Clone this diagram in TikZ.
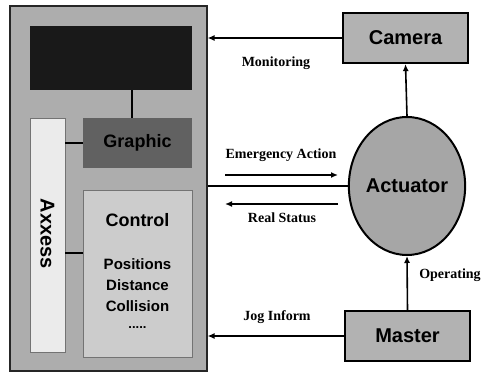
\documentclass[tikz,border=0pt]{standalone}
\usepackage{fontspec}
\setmainfont{Liberation Serif}
\setsansfont{Liberation Sans}
\usetikzlibrary{arrows.meta,shapes.geometric}
\tikzset{
    >={Latex[length=7pt,width=6pt]},
    panel/.style={rectangle, draw=black!85, line width=1.2pt, fill=black!32, inner sep=0pt},
    screen/.style={rectangle, fill=black!90, inner sep=0pt},
    inner/.style={rectangle, draw=black!55, line width=0.6pt, inner sep=0pt},
    device/.style={rectangle, draw, line width=2.2pt, fill=black!30, minimum width=125pt, minimum height=50pt, font=\sffamily\bfseries\fontsize{20}{22}\selectfont},
    actor/.style={ellipse, draw, line width=2pt, fill=black!35, minimum width=102pt, minimum height=138pt, inner sep=0pt, font=\sffamily\bfseries\fontsize{20}{22}\selectfont},
    link/.style={line width=1.6pt},
    tag/.style={font=\bfseries\fontsize{14}{16}\selectfont},
    boxtext/.style={font=\sffamily\bfseries\fontsize{18}{21}\selectfont},
    itemtext/.style={font=\sffamily\bfseries\fontsize{15}{21}\selectfont, align=center}
}
\begin{document}
\begin{tikzpicture}[x=1pt, y=-1pt]
    \useasboundingbox[fill=white] (0,0) rectangle (488,374);

    \node[panel, minimum width=197pt, minimum height=365pt] (sys) at (108.5,188.5) {};
    \node[screen, minimum width=162pt, minimum height=64pt] (view) at (111,58) {};
    \node[inner, draw=none, fill=black!62, minimum width=109pt, minimum height=50pt,
          boxtext, text=black] (graphic) at (137.5,143) {Graphic};
    \node[inner, fill=black!8, minimum width=35pt, minimum height=234pt] (axxess) at (47.5,235) {};
    \node[boxtext, font=\sffamily\bfseries\fontsize{20}{22}\selectfont, rotate=-90] (axxesstext) at (47.5,234) {Axxess};
    \node[inner, fill=black!20, minimum width=109pt, minimum height=167pt] (control) at (137.5,273.5) {};
    \node[boxtext] (ctltitle) at (137.5,220) {Control};
    \node[itemtext] (ctlitems) at (137.5,294) {Positions\\Distance\\Collision\\[-4pt]{\fontsize{13}{13}\selectfont.....}};

    \coordinate (tap) at (132,0);
    \coordinate (ctltap) at (0,253);
    \draw[link] (view.south -| tap) -- (graphic.north -| tap);
    \draw[link] (graphic.west) -- (graphic.west -| axxess.east);
    \draw[link] (control.west |- ctltap) -- (axxess.east |- ctltap);

    \node[device] (camera) at (405.5,38) {Camera};
    \node[actor] (actuator) at (407,186) {Actuator};
    \node[device] (master) at (407.5,336) {Master};

    \draw[link, ->] (camera.west) -- (camera.west -| sys.east);
    \draw[link, ->] (actuator.north) -- (camera.south);
    \draw[link, ->] (master.north) -- (actuator.south);
    \draw[link] (actuator.west) -- (actuator.west -| sys.east);
    \draw[link, ->] (master.west) -- (master.west -| sys.east);

    \coordinate (ea1) at (225,175);
    \coordinate (ea2) at (338,175);
    \coordinate (rs1) at (338,204);
    \coordinate (rs2) at (225,204);
    \draw[link, ->] (ea1) -- (ea2);
    \draw[link, ->] (rs1) -- (rs2);

    \node[tag] (monitoring) at (276,63) {Monitoring};
    \node[tag] (emergency) at (281,155) {Emergency Action};
    \node[tag] (status) at (282,218) {Real Status};
    \node[tag] (jog) at (277,317) {Jog Inform};
    \node[tag] (operating) at (450,275) {Operating};
\end{tikzpicture}
\end{document}
